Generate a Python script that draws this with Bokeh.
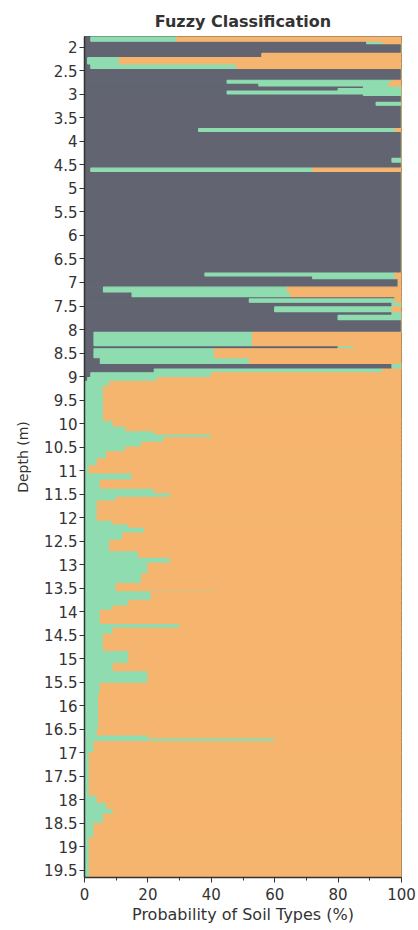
from bokeh.plotting import figure
from bokeh.models import Range1d, FixedTicker
from bokeh.embed import file_html
from bokeh.resources import INLINE
import numpy as np

# Layer boundaries (depth, m)
depth_edges = [1.77, 1.87, 1.92, 2.13, 2.22, 2.35, 2.45, 2.70, 2.76, 2.82, 2.88, 2.93, 2.99, 3.02,
               3.17, 3.23, 3.73, 3.79, 4.36, 4.44, 4.57, 4.64, 6.80, 6.86, 6.92, 7.10, 7.20, 7.30,
               7.35, 7.42, 7.52, 7.62, 7.70, 7.79, 8.06, 8.34, 8.41, 8.60, 8.72, 8.84, 8.92, 9.02,
               9.10, 9.20,
               9.93, 10.05, 10.15, 10.22, 10.30, 10.40, 10.50, 10.60, 10.75, 10.90, 11.05, 11.20,
               11.37, 11.47, 11.57, 11.65, 12.05, 12.13, 12.20, 12.33, 12.48, 12.70, 12.84, 12.97,
               13.20, 13.40, 13.55, 13.58, 13.76, 13.88, 13.97, 14.25, 14.35, 14.48, 14.82, 15.10,
               15.25, 15.52, 15.74, 16.52, 16.62, 16.68, 16.76, 17.00, 17.90, 18.05, 18.18, 18.30,
               18.50, 18.80, 19.65]

# Probability (%) of each soil type per layer
clay = [2, 89, 100, 56, 1, 2, 100, 45, 55, 88, 80, 45, 88, 100,
        92, 100, 36, 100, 97, 100, 2, 100, 38, 72, 99, 6, 15, 98,
        52, 97, 60, 97, 80, 100, 3, 80, 3, 5, 97, 22, 2, 1, 0] + [0] * 51
silt = [27, 5, 0, 0, 10, 46, 0, 52, 41, 12, 20, 55, 12, 0,
        8, 0, 62, 0, 3, 0, 70, 0, 60, 26, 0, 58, 50, 0,
        46, 3, 37, 3, 20, 0, 50, 5, 38, 47, 3, 72, 38, 22, 8,
        6, 9, 13, 22, 40, 25, 18, 13, 7, 4, 1.5, 15, 5, 22, 27, 10, 4,
        9, 14, 19, 12, 8, 17, 27, 20, 18, 10, 41, 21, 14, 9, 5, 30, 9, 6,
        14, 9, 20, 5, 4.5, 4, 20, 60, 3, 1.5, 4, 7, 9, 6, 3, 1.5]
sand = [71, 6, 0, 44, 89, 52, 0, 3, 4, 0, 0, 0, 0, 0,
        0, 0, 2, 0, 0, 0, 28, 0, 2, 2, 1, 36, 35, 2,
        2, 0, 3, 0, 0, 0, 47, 15, 59, 48, 0, 6, 60, 77, 92,
        94, 91, 87, 78, 60, 75, 82, 87, 93, 96, 98.5, 85, 95, 78, 73, 90, 96,
        91, 86, 81, 88, 92, 83, 73, 80, 82, 90, 59, 79, 86, 91, 95, 70, 91, 94,
        86, 91, 80, 95, 95.5, 96, 80, 40, 97, 98.5, 96, 93, 91, 94, 97, 98.5]

soil_names = ["clay", "silt", "sand"]
soil_colors = ["#626571", "#8fdcb0", "#f6b56e"]

x_ticks = [0, 20, 40, 60, 80, 100]
x_minor = [10, 30, 50, 70, 90]
y_ticks = [2, 2.5, 3, 3.5, 4, 4.5, 5, 5.5, 6, 6.5, 7, 7.5, 8, 8.5, 9, 9.5, 10, 10.5, 11, 11.5,
           12, 12.5, 13, 13.5, 14, 14.5, 15, 15.5, 16, 16.5, 17, 17.5, 18, 18.5, 19, 19.5]
y_labels = ["2", "2.5", "3", "3.5", "4", "4.5", "5", "5.5", "6", "6.5", "7", "7.5", "8", "8.5",
            "9", "9.5", "10", "10.5", "11", "11.5", "12", "12.5", "13", "13.5", "14", "14.5",
            "15", "15.5", "16", "16.5", "17", "17.5", "18", "18.5", "19", "19.5"]

p = figure(width=418, height=930, output_backend="svg", toolbar_location=None,
           x_range=Range1d(0, 100), y_range=Range1d(depth_edges[-1], depth_edges[0]),
           min_border_left=84, min_border_right=17, min_border_top=36, min_border_bottom=53,
           title="Fuzzy Classification")

tops = np.array(depth_edges[:-1])
bots = np.array(depth_edges[1:])
left = np.zeros(len(tops))
for vals, col in zip([clay, silt, sand], soil_colors):
    right = left + np.array(vals, dtype=float)
    p.quad(left=left, right=right, top=tops, bottom=bots,
           fill_color=col, line_color=col, line_width=1.2)
    left = right

p.title.text_font = "DejaVu Sans"
p.title.text_font_size = "16px"
p.title.text_font_style = "bold"
p.title.align = "center"
p.title.text_color = "#333333"
p.title.standoff = 12

p.xgrid.visible = False
p.ygrid.visible = False
p.outline_line_color = "#444444"
p.background_fill_color = "white"

xa = p.xaxis[0]
xa.ticker = FixedTicker(ticks=x_ticks, minor_ticks=x_minor)
xa.axis_label = "Probability of Soil Types (%)"
ya = p.yaxis[0]
ya.ticker = FixedTicker(ticks=y_ticks)
ya.major_label_overrides = {t: l for t, l in zip(y_ticks, y_labels)}
ya.axis_label = "Depth (m)"
ya.minor_tick_line_color = None

for ax in (xa, ya):
    ax.axis_label_text_font = "DejaVu Sans"
    ax.axis_label_text_font_style = "normal"
    ax.axis_label_text_color = "#333333"
    ax.major_label_text_font = "DejaVu Sans"
    ax.major_label_text_font_size = "15px"
    ax.major_label_text_color = "#333333"
    ax.axis_line_color = "#333333"
    ax.axis_line_width = 1.5
    ax.major_tick_line_color = "#333333"
    ax.major_tick_in = 0
    ax.major_tick_out = 5

xa.axis_label_text_font_size = "16px"
xa.major_label_standoff = 5
xa.axis_label_standoff = 2
ya.axis_label_text_font_size = "14px"
ya.major_label_standoff = 2
ya.axis_label_standoff = 10

xa.minor_tick_in = 0
xa.minor_tick_out = 3
xa.minor_tick_line_color = "#333333"

open("out.html", "w").write(file_html(p, INLINE))
